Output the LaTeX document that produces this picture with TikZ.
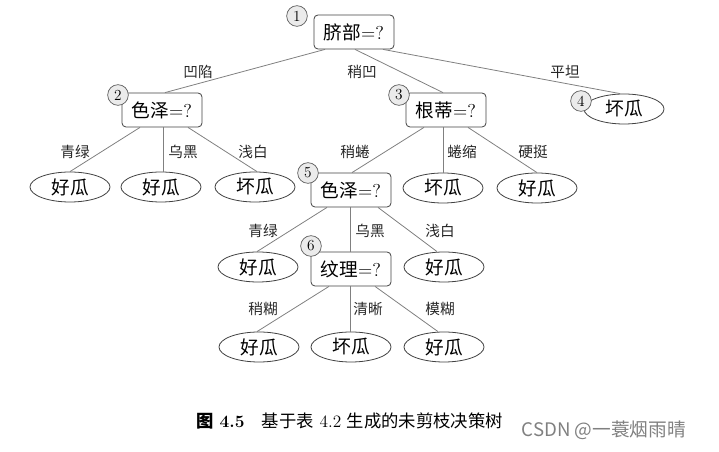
\documentclass[tikz,border=0pt]{standalone}
\usepackage{fontspec}
\newfontfamily\cjk{Noto Sans CJK SC}
\usetikzlibrary{shapes.geometric,calc}
\tikzset{
  decision/.style={draw=black!75, rounded corners=3pt, minimum width=60pt, minimum height=25.5pt, inner sep=1pt, font=\fontsize{14pt}{16pt}\selectfont, line width=0.6pt},
  leaf/.style={draw=black!75, ellipse, minimum width=60pt, minimum height=22.5pt, inner sep=0pt, font=\fontsize{14pt}{16pt}\selectfont, line width=0.6pt},
  num/.style={draw=black!65, circle, fill=black!8, minimum size=15.5pt, inner sep=0pt, font=\fontsize{11.5pt}{12pt}\selectfont, line width=0.5pt},
  elabel/.style={font=\fontsize{11pt}{12pt}\selectfont\cjk, text=black!85},
  edge/.style={draw=black!50, line width=0.6pt}
}
\begin{document}
\begin{tikzpicture}[x=0.75pt,y=-0.75pt]
\useasboundingbox (0,0) rectangle (719,452);
% decision nodes
\node[decision] (root) at (354,32) {{\cjk 脐部}=?};
\node[decision] (c2) at (162,110) {{\cjk 色泽}=?};
\node[decision] (c3) at (446,110) {{\cjk 根蒂}=?};
\node[leaf] (l4) at (624,109) {\cjk 坏瓜};
\node[leaf] (l21) at (70,187) {\cjk 好瓜};
\node[leaf] (l22) at (161,187) {\cjk 好瓜};
\node[leaf] (l23) at (255,187) {\cjk 坏瓜};
\node[decision] (c5) at (351,190) {{\cjk 色泽}=?};
\node[leaf] (l32) at (443,188) {\cjk 坏瓜};
\node[leaf] (l33) at (537,188) {\cjk 好瓜};
\node[leaf] (l51) at (258,267) {\cjk 好瓜};
\node[decision] (c6) at (351,269) {{\cjk 纹理}=?};
\node[leaf] (l53) at (444,267) {\cjk 好瓜};
\node[leaf] (l61) at (259,347) {\cjk 好瓜};
\node[leaf] (l62) at (351,347) {\cjk 坏瓜};
\node[leaf] (l63) at (444,347) {\cjk 好瓜};
% number circles
\node[num] (n1) at (297,16) {1};
\node[num] (n2) at (118,95) {2};
\node[num] (n3) at (399,95) {3};
\node[num] (n4) at (581,101) {4};
\node[num] (n5) at (308,173) {5};
\node[num] (n6) at (311,246) {6};
% edges
\draw[edge] ($(root.south)+(-29,0)$) -- ($(c2.north)+(3,0)$);
\draw[edge] ($(root.south)+(1,0)$) -- ($(c3.north)+(-3,0)$);
\draw[edge] ($(root.south)+(29,0)$) -- ($(l4.north)+(-4,0)$);
\draw[edge] ($(c2.south)+(-22,0)$) -- (l21.north);
\draw[edge] ($(c2.south)+(1,0)$) -- ($(l22.north)+(2,0)$);
\draw[edge] ($(c2.south)+(26,0)$) -- ($(l23.north)+(2,0)$);
\draw[edge] ($(c3.south)+(-22,0)$) -- ($(c5.north)+(1,0)$);
\draw[edge] ($(c3.south)+(-3,0)$) -- (l32.north);
\draw[edge] ($(c3.south)+(22,0)$) -- (l33.north);
\draw[edge] ($(c5.south)+(-24,0)$) -- ($(l51.north)+(-1,0)$);
\draw[edge] ($(c5.south)+(-1,0)$) -- ($(c6.north)+(-1,0)$);
\draw[edge] ($(c5.south)+(27,0)$) -- ($(l53.north)+(-7,0)$);
\draw[edge] ($(c6.south)+(-22,0)$) -- ($(l61.north)+(-2,0)$);
\draw[edge] ($(c6.south)+(-1,0)$) -- ($(l62.north)+(-1,0)$);
\draw[edge] ($(c6.south)+(24,0)$) -- ($(l63.north)+(-6,0)$);
% edge labels
\node[elabel] (e1) at (198,72) {凹陷};
\node[elabel] (e2) at (362,72) {稍凹};
\node[elabel] (e3) at (565,72) {平坦};
\node[elabel] (e4) at (75,152) {青绿};
\node[elabel] (e5) at (183,152) {乌黑};
\node[elabel] (e6) at (253,152) {浅白};
\node[elabel] (e7) at (355,152) {稍蜷};
\node[elabel] (e8) at (462,152) {蜷缩};
\node[elabel] (e9) at (533,152) {硬挺};
\node[elabel] (e10) at (263,231) {青绿};
\node[elabel] (e11) at (370,231) {乌黑};
\node[elabel] (e12) at (440,231) {浅白};
\node[elabel] (e13) at (263,309) {稍糊};
\node[elabel] (e14) at (368,309) {清晰};
\node[elabel] (e15) at (440,309) {模糊};
% caption
\node[anchor=west, font=\fontsize{13pt}{15pt}\selectfont] (cap) at (192,421) {{\cjk\bfseries 图} \textbf{4.5}\quad {\cjk 基于表} 4.2 {\cjk 生成的未剪枝决策树}};
\node[anchor=west, font=\fontsize{14pt}{16pt}\selectfont\cjk, text=black!50] (wm) at (517,430) {CSDN @一蓑烟雨晴};
\end{tikzpicture}
\end{document}
